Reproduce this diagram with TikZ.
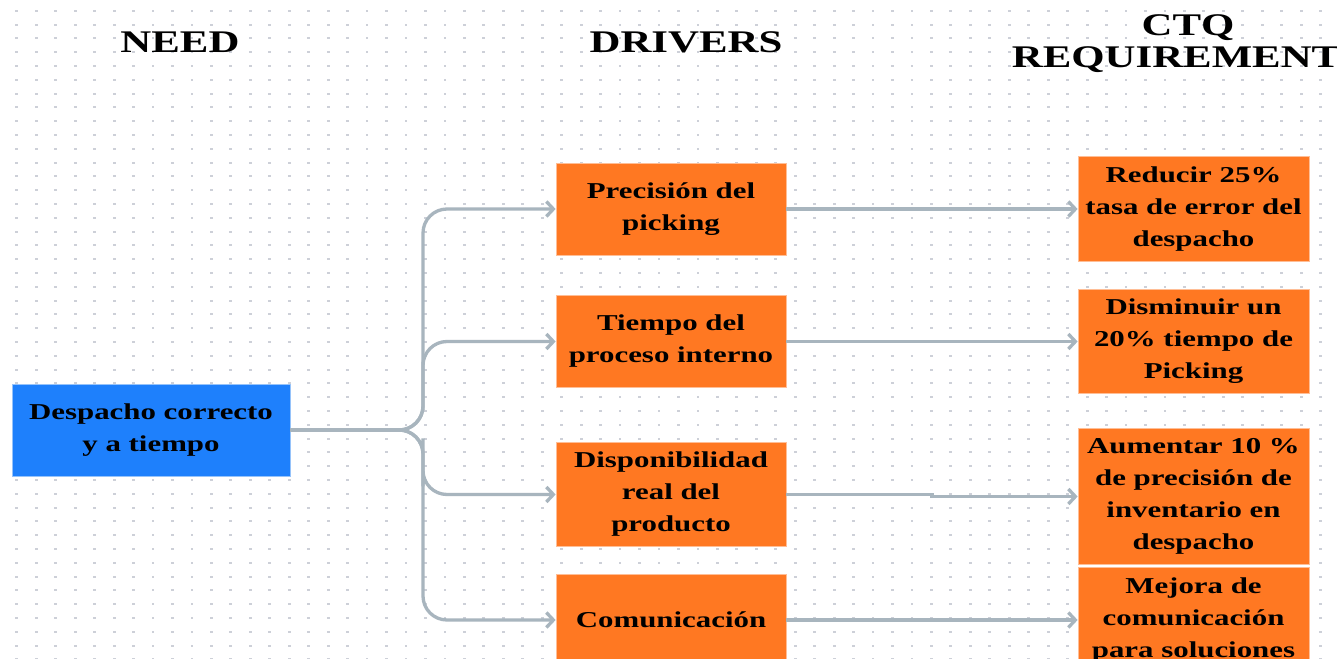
\documentclass[tikz,border=0pt]{standalone}
\usepackage{fontspec}
\setmainfont{Liberation Serif}[FakeStretch=1.36]
\usetikzlibrary{arrows.meta,calc}

\definecolor{needblue}{RGB}{30,128,252}
\definecolor{neededge}{RGB}{150,195,250}
\definecolor{drvorange}{RGB}{255,120,34}
\definecolor{drvedge}{RGB}{255,190,150}
\definecolor{linkgrey}{RGB}{168,181,190}
\definecolor{dotgrey}{RGB}{205,208,216}

\newcommand{\boxfont}{\bfseries\fontsize{22.7}{32}\selectfont}
\newcommand{\headfont}{\bfseries\fontsize{31.5}{32}\selectfont}

\tikzset{
  head/.style={font=\headfont, inner sep=0pt, align=center},
  needbox/.style={fill=needblue, draw=neededge, line width=0.8pt, font=\boxfont,
    align=center, minimum width=278pt, minimum height=92pt, inner sep=10pt},
  drvbox/.style={fill=drvorange, draw=drvedge, line width=0.8pt, font=\boxfont,
    align=center, minimum width=230pt, minimum height=92pt, inner xsep=0pt, inner ysep=10pt},
  ctqbox/.style={drvbox, minimum width=231pt},
  link/.style={draw=linkgrey, line width=3.3pt, -{Straight Barb[length=7pt,width=15pt]}},
  branch/.style={link, rounded corners=24pt},
}

\begin{document}
\begin{tikzpicture}[x=1pt,y=-1pt]
  \useasboundingbox (0,0) rectangle (1337,658);
  \clip (0,0) rectangle (1337,658);
  \fill[white] (0,0) rectangle (1337,658);
  % dotted sheet
  \foreach \i in {0,...,68}
    \foreach \j in {0,...,47}
      \fill[dotgrey] ({15.4+\i*19.46},{9.8+\j*13.8}) rectangle ++(2.8,2);

  % column titles
  \node[head] (tneed) at (180,42) {NEED};
  \node[head] (tdrv) at (686,42) {DRIVERS};
  \node[head,anchor=north] (tctq) at (1188,14) {CTQ\\REQUIREMENTS};

  % need
  \node[needbox] (need) at (151,430) {Despacho correcto\\y a tiempo};

  % drivers
  \node[drvbox] (prc) at (671,209) {Precisión del\\picking};
  \node[drvbox] (tpo) at (671,341.5) {Tiempo del\\proceso interno};
  \node[drvbox] (dsp) at (671,494.5) {Disponibilidad\\real del\\producto};
  \node[drvbox] (com) at (671,620) {Comunicación};

  % ctq requirements
  \node[ctqbox] (rq1) at (1193.5,209) {Reducir 25\%\\tasa de error del\\despacho};
  \node[ctqbox] (rq2) at (1193.5,341.5) {Disminuir un\\20\% tiempo de\\Picking};
  \node[ctqbox] (rq3) at (1193.5,496.5) {Aumentar 10 \%\\de precisión de\\inventario en\\despacho};
  \node[ctqbox,anchor=north] (rq4) at (1193.5,567) {Mejora de\\comunicación\\para soluciones};

  % need -> drivers
  \foreach \d in {prc,tpo,dsp,com}
    \draw[branch] (need.east) -| ($(need.east)!.5!(\d.west)$) |- (\d.west);

  % drivers -> requirements
  \draw[link] (prc.east) -- (rq1.west);
  \draw[link] (tpo.east) -- (rq2.west);
  \draw[link] (dsp.east) -| ($(dsp.east)!.5!(rq3.west)$) |- (rq3.west);
  \draw[link] (com.east) -- (com.east -| rq4.west);
\end{tikzpicture}
\end{document}
